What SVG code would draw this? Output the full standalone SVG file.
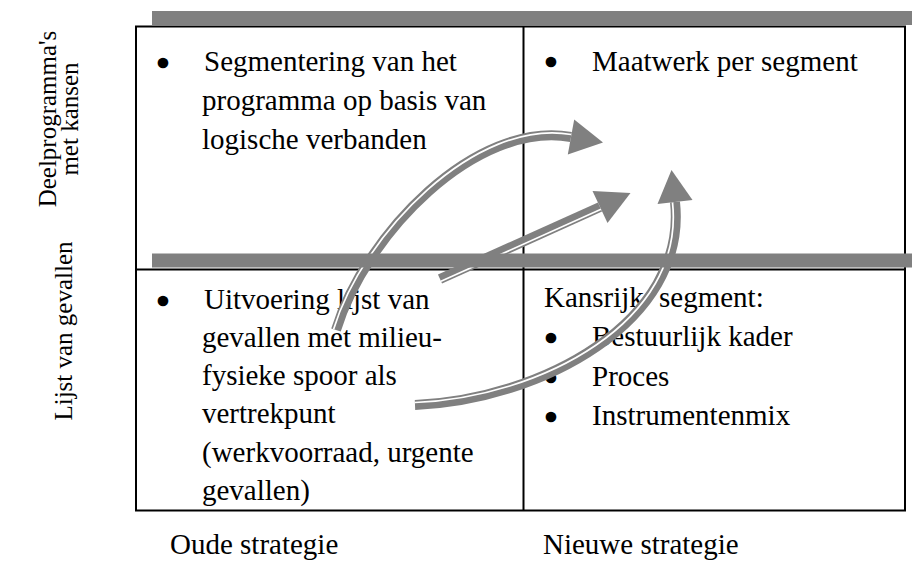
<svg xmlns="http://www.w3.org/2000/svg" width="912" height="574" viewBox="0 0 912 574">
<style>
.t{font-family:"Liberation Serif","Times New Roman",serif;font-size:29px;fill:#000}
.s{font-family:"Liberation Serif","Times New Roman",serif;font-size:25px;fill:#000;text-anchor:middle}
.b{font-family:"Liberation Serif","Times New Roman",serif;font-size:34px;fill:#000;stroke:#000;stroke-width:2.5;text-anchor:middle}
.ln{stroke:#000;stroke-width:2;fill:none}
.bar{fill:#808080}
.band{fill:none;stroke:#808080;stroke-width:10}
.stripe{fill:none;stroke:#fff;stroke-width:1.7}
.head{fill:#808080}
</style>
<rect width="912" height="574" fill="#fff"/>
<rect class="bar" x="152" y="11" width="760" height="14"/>
<g id="grid">
<rect class="ln" x="136" y="26.5" width="769" height="484"/>
<line class="ln" x1="136" y1="269.5" x2="905" y2="269.5"/>
<line class="ln" x1="523.5" y1="26.5" x2="523.5" y2="510.5"/>
</g>
<g id="label-deelprogrammas">
<text class="s" transform="translate(56,119) rotate(-90)">Deelprogramma's</text>
<text class="s" transform="translate(78,119) rotate(-90)">met kansen</text>
</g>
<g id="label-lijst">
<text class="s" transform="translate(72,331) rotate(-90)">Lijst van gevallen</text>
</g>
<g id="cell-top-left">
<text class="b" x="163" y="74.5">•</text>
<text class="t" x="204" y="70.5">Segmentering van het</text>
<text class="t" x="202" y="109.5">programma op basis van</text>
<text class="t" x="202" y="148.5">logische verbanden</text>
</g>
<g id="cell-top-right">
<text class="b" x="551" y="73.5">•</text>
<text class="t" x="592" y="71">Maatwerk per segment</text>
</g>
<g id="cell-bottom-left">
<text class="b" x="163" y="312.5">•</text>
<text class="t" x="204" y="308.5">Uitvoering lijst van</text>
<text class="t" x="202" y="346.8">gevallen met milieu-</text>
<text class="t" x="202" y="385.1">fysieke spoor als</text>
<text class="t" x="202" y="423.4">vertrekpunt</text>
<text class="t" x="202" y="461.7">(werkvoorraad, urgente</text>
<text class="t" x="202" y="500">gevallen)</text>
</g>
<g id="cell-bottom-right">
<text class="t" x="544" y="306.5">Kansrijk <tspan x="659">segment:</tspan></text>
<text class="b" x="551" y="350">•</text>
<text class="t" x="592" y="346">Bestuurlijk kader</text>
<text class="b" x="551" y="389.5">•</text>
<text class="t" x="592" y="385.5">Proces</text>
<text class="b" x="551" y="429">•</text>
<text class="t" x="592" y="425">Instrumentenmix</text>
</g>
<g id="label-oude">
<text class="t" x="170" y="554">Oude strategie</text>
</g>
<g id="label-nieuwe">
<text class="t" x="543" y="554">Nieuwe strategie</text>
</g>
<g id="connectors">
<g id="arrow-1">
<path class="band" d="M336,330 C365,235 475,120 571,137"/>
<path class="stripe" d="M333.6,329.3 C362.6,234.3 475.4,117.5 571.4,134.5"/>
<polygon class="head" points="603,142.5 574.2,119.5 567.8,154.5"/>
</g>
<g id="arrow-2">
<path class="band" d="M440,279 L600,207"/>
<path class="stripe" d="M441,281.3 L601,209.3"/>
<polygon class="head" points="630.5,193 592.5,191 607.5,223"/>
</g>
<g id="arrow-3">
<path class="band" d="M415,405 C540,400 688,322 675,202"/>
<path class="stripe" d="M414.9,402.5 C539.9,397.5 685.5,322.3 672.5,202.3"/>
<polygon class="head" points="671.5,170 692.5,200 657.5,204"/>
</g>
</g>
<rect class="bar" x="152" y="253.5" width="760" height="14"/>
</svg>
